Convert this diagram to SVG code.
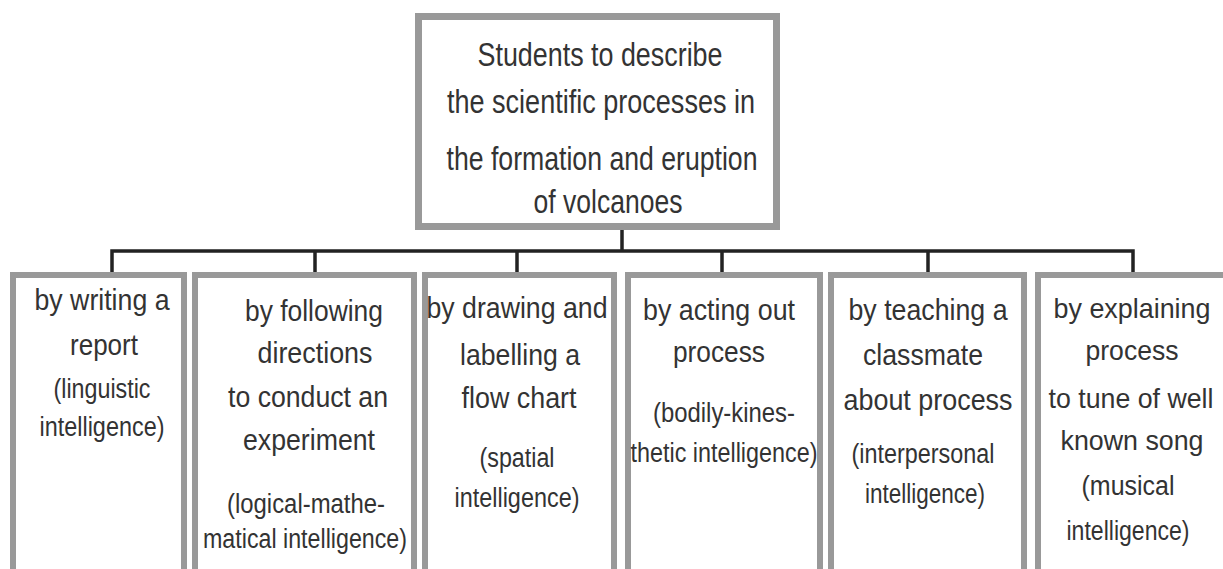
<svg xmlns="http://www.w3.org/2000/svg" width="1223" height="569" viewBox="0 0 1223 569">
<style>
.box{fill:#fff;stroke:#999;stroke-width:6}
.top{fill:#fff;stroke:#999;stroke-width:7}
.conn{fill:none;stroke:#222;stroke-width:3.5}
text{font-family:"Liberation Sans",Arial,sans-serif;fill:#333;text-anchor:middle}
.t{font-size:33px}
.m{font-size:30px}
.n{font-size:28px}
.s{font-size:27px}
</style>
<rect width="1223" height="569" fill="#fff"/>
<g id="connectors">
<path class="conn" d="M622 230V251M112 272V251H1133V272M315 251V272M517 251V272M722 251V272M928 251V272"/>
</g>
<g id="top">
<rect class="top" x="418.5" y="16.5" width="358" height="210"/>
<text class="t" x="600" y="66" textLength="245" lengthAdjust="spacingAndGlyphs">Students to describe</text>
<text class="t" x="601" y="113" textLength="308" lengthAdjust="spacingAndGlyphs">the scientific processes in</text>
<text class="t" x="602" y="170" textLength="311" lengthAdjust="spacingAndGlyphs">the formation and eruption</text>
<text class="t" x="608" y="213" textLength="149" lengthAdjust="spacingAndGlyphs">of volcanoes</text>
</g>
<g id="n1">
<rect class="box" x="13" y="275" width="171" height="320"/>
<text class="m" x="102" y="310" textLength="135" lengthAdjust="spacingAndGlyphs">by writing a</text>
<text class="m" x="104" y="355" textLength="68" lengthAdjust="spacingAndGlyphs">report</text>
<text class="s" x="102" y="398" textLength="97" lengthAdjust="spacingAndGlyphs">(linguistic</text>
<text class="s" x="102" y="436" textLength="125" lengthAdjust="spacingAndGlyphs">intelligence)</text>
</g>
<g id="n2">
<rect class="box" x="195" y="275" width="219" height="320"/>
<text class="m" x="314" y="321" textLength="138" lengthAdjust="spacingAndGlyphs">by following</text>
<text class="m" x="315" y="363" textLength="115" lengthAdjust="spacingAndGlyphs">directions</text>
<text class="m" x="308" y="407" textLength="160" lengthAdjust="spacingAndGlyphs">to conduct an</text>
<text class="m" x="309" y="450" textLength="132" lengthAdjust="spacingAndGlyphs">experiment</text>
<text class="s" x="306" y="513" textLength="158" lengthAdjust="spacingAndGlyphs">(logical-mathe-</text>
<text class="s" x="305" y="548" textLength="204" lengthAdjust="spacingAndGlyphs">matical intelligence)</text>
</g>
<g id="n3">
<rect class="box" x="425" y="275" width="189" height="320"/>
<text class="m" x="517" y="318" textLength="181" lengthAdjust="spacingAndGlyphs">by drawing and</text>
<text class="m" x="520" y="365" textLength="120" lengthAdjust="spacingAndGlyphs">labelling a</text>
<text class="m" x="519" y="408" textLength="115" lengthAdjust="spacingAndGlyphs">flow chart</text>
<text class="s" x="517" y="467" textLength="75" lengthAdjust="spacingAndGlyphs">(spatial</text>
<text class="s" x="517" y="507" textLength="125" lengthAdjust="spacingAndGlyphs">intelligence)</text>
</g>
<g id="n4">
<rect class="box" x="628" y="275" width="192" height="320"/>
<text class="m" x="719" y="320" textLength="152" lengthAdjust="spacingAndGlyphs">by acting out</text>
<text class="m" x="719" y="362" textLength="92" lengthAdjust="spacingAndGlyphs">process</text>
<text class="s" x="724" y="422" textLength="142" lengthAdjust="spacingAndGlyphs">(bodily-kines-</text>
<text class="s" x="724" y="462" textLength="187" lengthAdjust="spacingAndGlyphs">thetic intelligence)</text>
</g>
<g id="n5">
<rect class="box" x="831" y="275" width="193" height="320"/>
<text class="m" x="928" y="320" textLength="159" lengthAdjust="spacingAndGlyphs">by teaching a</text>
<text class="m" x="923" y="365" textLength="120" lengthAdjust="spacingAndGlyphs">classmate</text>
<text class="m" x="928" y="410" textLength="169" lengthAdjust="spacingAndGlyphs">about process</text>
<text class="s" x="923" y="463" textLength="143" lengthAdjust="spacingAndGlyphs">(interpersonal</text>
<text class="s" x="925" y="503" textLength="120" lengthAdjust="spacingAndGlyphs">intelligence)</text>
</g>
<g id="n6">
<path class="box" d="M1038 600V275H1230"/>
<text class="n" x="1132" y="318" textLength="157" lengthAdjust="spacingAndGlyphs">by explaining</text>
<text class="n" x="1132" y="360" textLength="93" lengthAdjust="spacingAndGlyphs">process</text>
<text class="n" x="1131" y="408" textLength="165" lengthAdjust="spacingAndGlyphs">to tune of well</text>
<text class="n" x="1132" y="450" textLength="143" lengthAdjust="spacingAndGlyphs">known song</text>
<text class="s" x="1128" y="495" textLength="93" lengthAdjust="spacingAndGlyphs">(musical</text>
<text class="s" x="1128" y="540" textLength="123" lengthAdjust="spacingAndGlyphs">intelligence)</text>
</g>
</svg>
